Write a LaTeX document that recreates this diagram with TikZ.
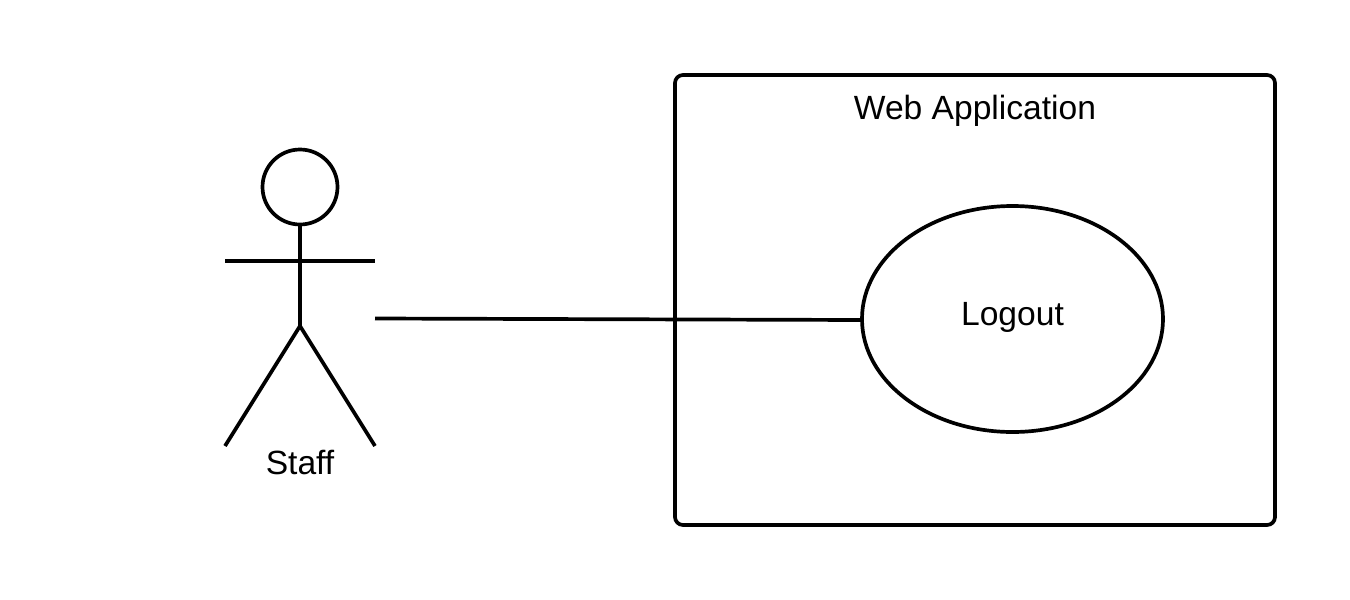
\documentclass[tikz,border=0pt]{standalone}
\usepackage{fontspec}
\setmainfont{Liberation Sans}
\usetikzlibrary{shapes.geometric}
\tikzset{
  ln/.style={draw=black,line width=3.7pt},
  lab/.style={font=\fontsize{33.6pt}{38pt}\selectfont,text=black,inner sep=0pt,anchor=base},
}
\begin{document}
\begin{tikzpicture}[x=1pt,y=-1pt]
\useasboundingbox (0,0) rectangle (1350,600);
\fill[white] (0,0) rectangle (1350,600);
\node[ln,rounded corners=8pt,minimum width=600pt,minimum height=450pt,inner sep=0pt,outer sep=0pt] (sys) at (975,300) {};
\node[lab] (syslab) at (975,119) {Web Application};
\node[ln,ellipse,minimum width=301pt,minimum height=226pt,inner sep=0pt,outer sep=0pt] (uc) at (1012.5,319) {};
\node[lab] (uclab) at (1012.5,325) {Logout};
\node[ln,circle,minimum size=75pt,inner sep=0pt,outer sep=0pt] (head) at (300,187) {};
\coordinate (hip) at (300,326);
\coordinate (armL) at (225,261);
\coordinate (armR) at (375,261);
\coordinate (legL) at (225,446);
\coordinate (legR) at (375,446);
\coordinate (actorR) at (375,318.5);
\coordinate (ucL) at (862,320);
\draw[ln] (head.south) -- (hip);
\draw[ln] (armL) -- (armR);
\draw[ln] (legL) -- (hip) -- (legR);
\node[lab] (actlab) at (300,474) {Staff};
\draw[ln] (actorR) -- (ucL);
\end{tikzpicture}
\end{document}
